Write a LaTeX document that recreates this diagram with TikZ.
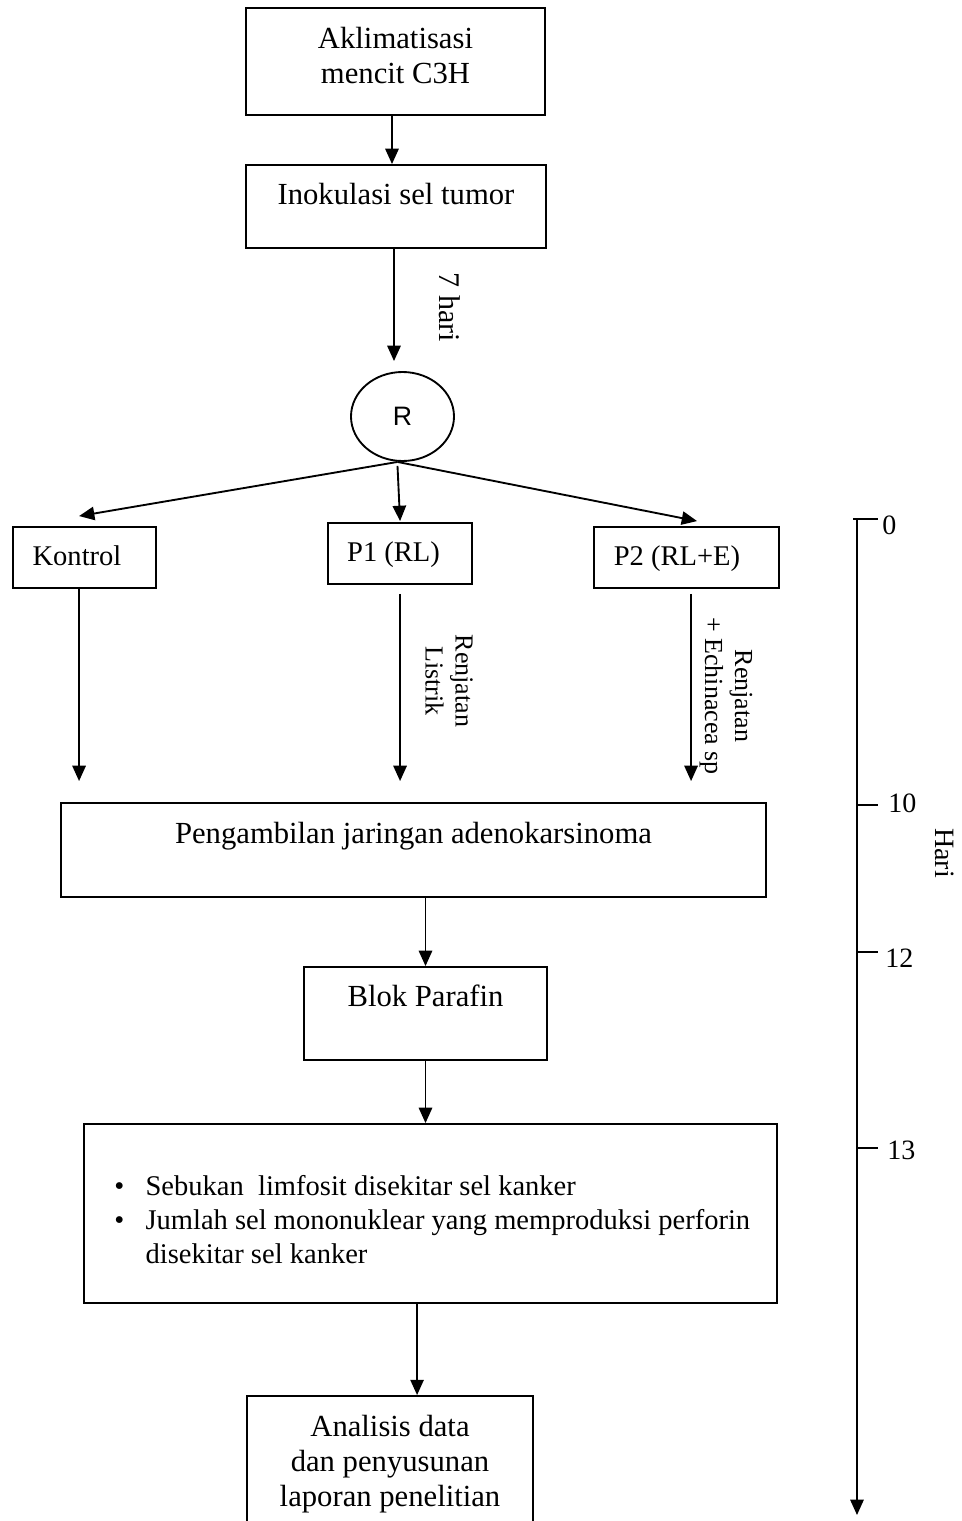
\documentclass[tikz,border=0pt]{standalone}
\usepackage{fontspec}
\setmainfont{Liberation Serif}
\newfontfamily\sansfam{Liberation Sans}
\usetikzlibrary{arrows.meta,calc,fit,shapes.geometric}

\begin{document}
\begin{tikzpicture}[x=0.75pt,y=-0.75pt,
  box/.style={draw, line width=1.4pt, inner sep=0pt, rectangle},
  arr/.style={line width=1.4pt, -{Triangle[length=11.5pt,width=10pt]}},
  ln/.style={line width=1.4pt},
  big/.style={inner sep=0pt, font=\fontsize{23}{26.25}\selectfont},
  mid/.style={inner sep=0pt, font=\fontsize{21.4}{25.5}\selectfont},
  side/.style={inner sep=0pt, rotate=-90, font=\fontsize{19.5}{22.5}\selectfont},
  tick/.style={inner sep=0pt, font=\fontsize{21}{24}\selectfont},
]
\clip (0,0) rectangle (962,1521);
\fill[white] (0,0) rectangle (962,1521);

% main flow boxes
\node[box, fit={(246,8) (545,115)}] (acl) {};
\node[big, anchor=base] (aclT) at (395.5,48)
  {\begin{tabular}[t]{@{}c@{}}Aklimatisasi\\mencit C3H\end{tabular}};

\node[box, fit={(246,165) (546,248)}] (ino) {};
\node[big, anchor=base] (inoT) at (396,204) {Inokulasi sel tumor};

\node[draw, ellipse, line width=1.4pt, inner sep=0pt,
      minimum width=77.25pt, minimum height=66.75pt,
      font=\sansfam\fontsize{20}{22}\selectfont] (R) at (402.5,416.5) {R};

\node[box, fit={(13,527) (156,588)}] (kon) {};
\node[mid, anchor=base] (konT) at (77,565) {Kontrol};

\node[box, fit={(328,523) (472,584)}] (pa) {};
\node[mid, anchor=base] (paT) at (393.5,561) {P1 (RL)};

\node[box, fit={(594,527) (779,588)}] (pb) {};
\node[mid, anchor=base] (pbT) at (677,565) {P2 (RL+E)};

\node[box, fit={(61,803) (766,897)}] (peng) {};
\node[big, anchor=base] (pengT) at (413.5,843) {Pengambilan jaringan adenokarsinoma};

\node[box, fit={(304,967) (547,1060)}] (blok) {};
\node[big, anchor=base] (blokT) at (425.5,1006) {Blok Parafin};

\node[box, fit={(84,1124) (777,1303)}] (bul) {};
\node[mid, anchor=base west] (bulT) at (114,1195)
  {\begin{tabular}[t]{@{}l@{\hspace{16pt}}l@{}}
   \textbullet & Sebukan\ \ limfosit disekitar sel kanker\\
   \textbullet & Jumlah sel mononuklear yang memproduksi perforin\\
               & disekitar sel kanker
   \end{tabular}};

\node[box, fit={(247,1396) (533,1545)}] (ana) {};
\node[big, anchor=base] (anaT) at (390,1436)
  {\begin{tabular}[t]{@{}c@{}}Analisis data\\dan penyusunan\\laporan penelitian\end{tabular}};

% connectors
\draw[arr] ($(acl.south)+(-3.5,0)$) -- ($(ino.north)+(-4,0)$);
\draw[arr] ($(ino.south)+(-2,0)$) -- ($(R.north)+(-8.5,-10)$);
\draw[arr] ($(R.south)+(-5,0)$) -- ($(kon.north west)+(67,-10)$);
\draw[arr] ($(R.south)+(-5,4)$) -- ($(pa.north west)+(73,-1)$);
\draw[arr] ($(R.south)+(-5,0)$) -- ($(pb.north west)+(104,-5)$);

\draw[arr] ($(kon.south west)+(67,-2)$) -- ($(peng.north west)+(19,-21)$);
\draw[arr] ($(pa.south west)+(73,9)$) -- ($(peng.north west)+(340,-21)$);
\draw[arr] ($(pb.south west)+(98,5)$) -- ($(peng.north west)+(631,-21)$);

\draw[arr] (blok.north |- peng.south) -- (blok.north);
\draw[arr] (blok.south) -- (blok.south |- bul.north);
\draw[arr] ($(bul.south west)+(334,0)$) -- ($(ana.north west)+(171,0)$);

% connector labels
\node[side, font=\fontsize{22.5}{25}\selectfont] (seven) at (450,307.5) {7 hari};
\node[side] (labA) at (446.5,681)
  {\begin{tabular}{@{}c@{}}Renjatan\\Listrik\end{tabular}};
\node[side] (labB) at (726,696)
  {\begin{tabular}{@{}c@{}}Renjatan\\+ Echinacea sp\end{tabular}};

% time axis (days)
\coordinate (ax0) at (857,519);
\coordinate (axE) at (857,1515);
\draw[arr] (ax0) -- (axE);
\draw[ln] (853,519) -- (878,519);
\draw[ln] (857,805) -- (878,805);
\draw[ln] (857,952) -- (878,952);
\draw[ln] (857,1148) -- (878,1148);
\node[tick, anchor=west] (d0) at (882,525) {0};
\node[tick, anchor=west] (d10) at (888,803) {10};
\node[tick, anchor=west] (d12) at (885,958) {12};
\node[tick, anchor=west] (d13) at (887,1150) {13};
\node[side, font=\fontsize{21}{24}\selectfont] (hari) at (945,853) {Hari};
\end{tikzpicture}
\end{document}
